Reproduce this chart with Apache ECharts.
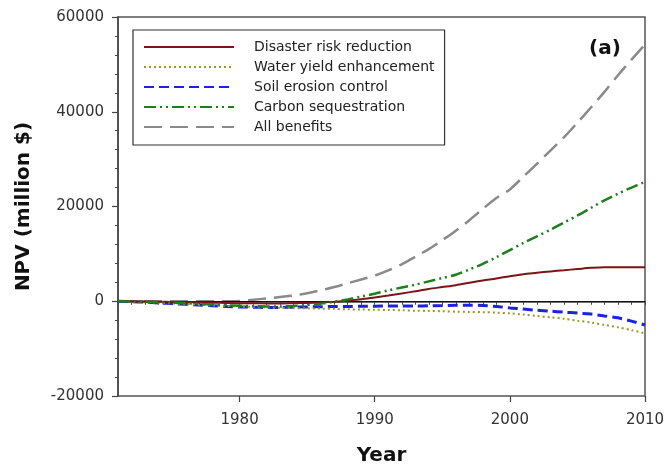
<!DOCTYPE html>
<html>
<head>
<meta charset="utf-8">
<script src="https://cdn.jsdelivr.net/npm/echarts@6/dist/echarts.min.js"></script>
<style>
html,body{margin:0;padding:0;background:#fff;}
#chart{width:671px;height:473px;}
</style>
</head>
<body>
<div id="chart"></div>
<script>
const years = [1971,1972,1973,1974,1975,1976,1977,1978,1979,1980,
               1981,1982,1983,1984,1985,1986,1987,1988,1989,1990,
               1991,1992,1993,1994,1995,1996,1997,1998,1999,2000,
               2001,2002,2003,2004,2005,2006,2007,2008,2009,2010];

const disasterRisk = [0,0,-50,-100,-150,-200,-250,-300,-350,-400,
                      -400,-450,-450,-400,-350,-250,-100,100,400,800,
                      1200,1650,2100,2600,3000,3400,3900,4400,4800,5300,
                      5700,6000,6300,6550,6800,7050,7200,7200,7200,7200];

const waterYield = [0,-100,-200,-300,-450,-600,-750,-900,-1000,-1100,
                    -1200,-1300,-1400,-1450,-1500,-1550,-1600,-1700,-1750,-1800,
                    -1850,-1900,-2000,-2050,-2100,-2200,-2250,-2300,-2400,-2550,
                    -2800,-3100,-3400,-3700,-4100,-4500,-5000,-5500,-6100,-6800];

const soilErosion = [0,-100,-200,-350,-500,-650,-800,-950,-1100,-1200,
                     -1250,-1300,-1300,-1250,-1200,-1150,-1100,-1100,-1050,-1050,
                     -1000,-1000,-1000,-950,-900,-850,-850,-900,-1100,-1400,
                     -1650,-1900,-2100,-2300,-2500,-2700,-3100,-3500,-4200,-5000];

const carbonSeq = [0,-50,-100,-200,-300,-400,-550,-700,-850,-950,
                   -1050,-1100,-1100,-1000,-800,-500,-100,400,1000,1600,
                   2300,2900,3500,4200,4900,5600,6700,7900,9300,10800,
                   12300,13700,15100,16600,18100,19700,21300,22700,24000,25200];

const allBenefits = [0,0,0,0,0,0,0,0,0,50,
                     300,600,900,1200,1700,2300,3000,3800,4600,5400,
                     6500,7800,9400,11000,12900,14900,17100,19500,21800,23600,
                     26300,29000,31800,34600,37700,40900,44200,47700,51000,54200];

const seriesNames = ['Disaster risk reduction','Water yield enhancement','Soil erosion control','Carbon sequestration','All benefits'];
const xTickLabels = [1980,1990,2000,2010];
const yTickLabels = [-20000,0,20000,40000,60000];

function pairs(vals){ return years.map((y,i)=>[y, vals[i]]); }
function plain(v){ return String(v); }

const FONT = 'DejaVu Sans';
const chart = echarts.init(document.getElementById('chart'), null, {renderer:'canvas'});

const common = {type:'line', showSymbol:false, symbol:'none', smooth:0.3, xAxisIndex:0, yAxisIndex:0};

chart.setOption({
  animation:false,
  backgroundColor:'#ffffff',
  grid:{left:118, right:26, top:17, bottom:77, show:true, borderColor:'#555', borderWidth:1.5, containLabel:false},
  title:{text:'(a)', left:584, top:34, textStyle:{fontFamily:FONT, fontSize:20, fontWeight:'bold', color:'#111'}},
  legend:{
    orient:'vertical', left:133, top:30,
    padding:[10,10,11,10],
    itemWidth:90, itemHeight:14, itemGap:6,
    borderColor:'#333', borderWidth:1.2, backgroundColor:'#fff',
    itemStyle:{opacity:0},
    textStyle:{fontFamily:FONT, fontSize:14, color:'#222', padding:[0,0,0,15]},
    data:seriesNames
  },
  xAxis:[
    {type:'value', min:years[0], max:years[years.length-1], interval:1,
     axisLine:{show:true, lineStyle:{color:'#444', width:1.5}},
     axisTick:{show:true, length:3.5, lineStyle:{color:'#444', width:1}},
     axisLabel:{show:false}, splitLine:{show:false}},
    {type:'value', min:years[0], max:years[years.length-1], position:'bottom',
     axisLine:{show:false},
     axisTick:{show:true, length:6, customValues:xTickLabels, lineStyle:{color:'#444', width:1.2}},
     axisLabel:{show:true, customValues:xTickLabels, formatter:plain, margin:17, fontFamily:FONT, fontSize:15, color:'#333'},
     splitLine:{show:false},
     name:'Year', nameLocation:'middle', nameGap:50,
     nameTextStyle:{fontFamily:FONT, fontSize:20, fontWeight:'bold', color:'#111'}}
  ],
  yAxis:{
    type:'value', min:yTickLabels[0], max:yTickLabels[yTickLabels.length-1], interval:20000,
    axisLine:{show:true, lineStyle:{color:'#444', width:1.5}},
    axisTick:{show:true, length:6, lineStyle:{color:'#444', width:1.2}},
    minorTick:{show:true, splitNumber:5, length:3, lineStyle:{color:'#444', width:1}},
    axisLabel:{margin:14, formatter:plain, fontFamily:FONT, fontSize:15, color:'#333'},
    splitLine:{show:false},
    name:'NPV (million $)', nameLocation:'middle', nameGap:84, nameRotate:90,
    nameTextStyle:{fontFamily:FONT, fontSize:20, fontWeight:'bold', color:'#111'}
  },
  series:[
    Object.assign({}, common, {name:seriesNames[0], data:pairs(disasterRisk), z:5,
      lineStyle:{color:'#7a1616', width:2, type:'solid'}, itemStyle:{color:'#7a1616'},
      markLine:{silent:true, symbol:'none', label:{show:false}, animation:false,
        lineStyle:{color:'#111', width:1.2, type:'solid'}, data:[{yAxis:0}]}}),
    Object.assign({}, common, {name:seriesNames[1], data:pairs(waterYield), z:4,
      lineStyle:{color:'#9a9a2a', width:2, type:[2,3]}, itemStyle:{color:'#9a9a2a'}}),
    Object.assign({}, common, {name:seriesNames[2], data:pairs(soilErosion), z:3,
      lineStyle:{color:'#1c22e0', width:3, type:[10,5]}, itemStyle:{color:'#1c22e0'}}),
    Object.assign({}, common, {name:seriesNames[3], data:pairs(carbonSeq), z:6,
      lineStyle:{color:'#1d7f1d', width:2.5, type:[12,4,2,4,2,4]}, itemStyle:{color:'#1d7f1d'}}),
    Object.assign({}, common, {name:seriesNames[4], data:pairs(allBenefits), z:2,
      lineStyle:{color:'#8a8a8a', width:2.5, type:[18,8]}, itemStyle:{color:'#8a8a8a'}})
  ]
});
</script>
</body>
</html>
